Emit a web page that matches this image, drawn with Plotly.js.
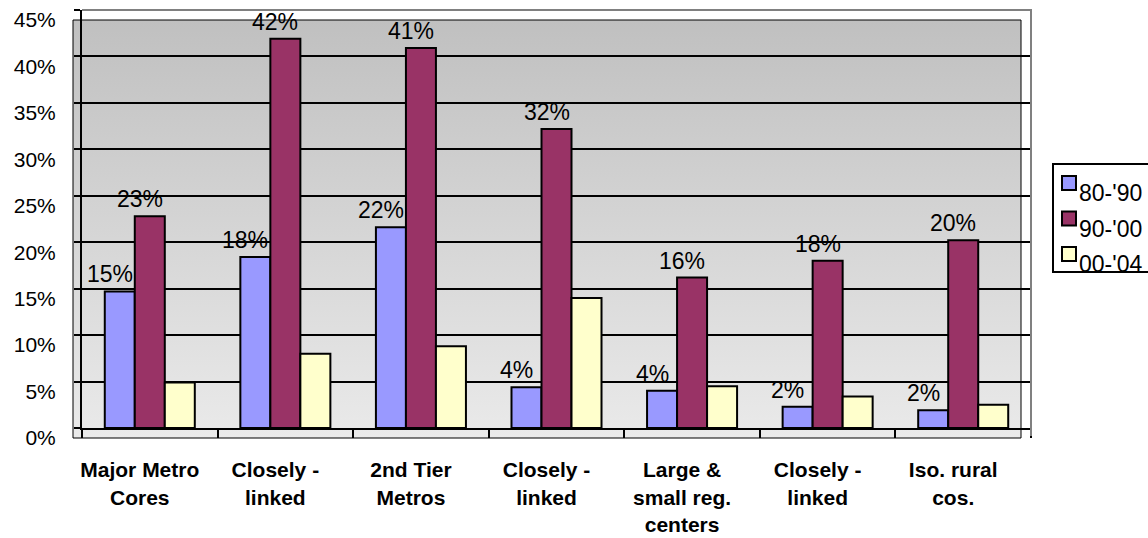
<!DOCTYPE html>
<html>
<head>
<meta charset="utf-8">
<script src="https://cdn.plot.ly/plotly-3.0.1.min.js"></script>
<style>
  html, body { margin: 0; padding: 0; background: #ffffff; }
  #chart { width: 1148px; height: 538px; }
</style>
</head>
<body>
<div id="chart"></div>
<script>
// Population growth by county type, three periods
const categories = [
  "Major Metro<br>Cores",
  "Closely -<br>linked",
  "2nd Tier<br>Metros",
  "Closely -<br>linked",
  "Large &<br>small reg.<br>centers",
  "Closely -<br>linked",
  "Iso. rural<br>cos."
];
const seriesNames = ["80-'90", "90-'00", "00-'04"];
const growth8090 = [14.7, 18.4, 21.6, 4.4, 4.0, 2.3, 1.9];
const growth9000 = [22.8, 41.9, 40.9, 32.2, 16.2, 18.0, 20.2];
const growth0004 = [4.9, 8.0, 8.8, 14.0, 4.5, 3.4, 2.5];
const seriesValues = [growth8090, growth9000, growth0004];
const seriesColors = ["#9999FF", "#993366", "#FFFFCC"];
const seriesLabelled = [true, true, false];
const yTickSuffix = "%";

// ---- layout geometry (pixels) ----
const W = 1148, H = 538;
const PLOT = { left: 82, right: 1031, top: 10, bottom: 428 };
const BARGAP = 0.336;
const FONT = "'Liberation Sans', Arial, sans-serif";

const px2x = px => (px - PLOT.left) / (PLOT.right - PLOT.left);
const px2y = py => (PLOT.bottom - py) / (PLOT.bottom - PLOT.top);

const idx = categories.map((_, i) => i);

const traces = seriesValues.map((vals, s) => ({
  type: "bar",
  name: seriesNames[s],
  x: idx,
  y: vals,
  marker: { color: seriesColors[s], line: { color: "#000000", width: 2 } },
  hoverinfo: "skip",
  showlegend: false
}));

// value labels above the first two series
const barW = (1 - BARGAP) / seriesValues.length;
const annotations = [];
seriesValues.forEach((vals, s) => {
  if (!seriesLabelled[s]) return;
  vals.forEach((v, i) => {
    annotations.push({
      xref: "x", yref: "y",
      x: i + (s - (seriesValues.length - 1) / 2) * barW,
      y: v,
      text: Math.round(v) + "%",
      showarrow: false,
      xanchor: "center", yanchor: "bottom",
      xshift: -10, yshift: 2,
      font: { family: FONT, size: 23, color: "#000000" }
    });
  });
});

// legend box drawn beside the plot
const legendLeft = 1053, legendTop = 164, legendBottom = 272;
const legendRowStep = 35.5, swatchTop = 176, swatchLeft = 1062, swatch = 14;
const shapes = [];

// back wall outline
shapes.push({
  type: "rect", xref: "paper", yref: "paper", layer: "below",
  x0: px2x(73), x1: px2x(1021), y0: px2y(438), y1: px2y(20),
  line: { color: "#000000", width: 1 }, fillcolor: "rgba(0,0,0,0)"
});
// plot frame top and right edges
shapes.push({
  type: "line", xref: "paper", yref: "paper", layer: "above",
  x0: 0, x1: px2x(1032), y0: 1, y1: 1,
  line: { color: "#808080", width: 2 }
});
shapes.push({
  type: "line", xref: "paper", yref: "paper", layer: "above",
  x0: 1, x1: 1, y0: px2y(436), y1: 1,
  line: { color: "#808080", width: 2 }
});
// legend frame
shapes.push({
  type: "rect", xref: "paper", yref: "paper", layer: "above",
  x0: px2x(legendLeft), x1: px2x(W + 10), y0: px2y(legendBottom), y1: px2y(legendTop),
  line: { color: "#000000", width: 2 }, fillcolor: "#ffffff"
});
seriesNames.forEach((name, s) => {
  const top = swatchTop + s * legendRowStep;
  shapes.push({
    type: "rect", xref: "paper", yref: "paper", layer: "above",
    x0: px2x(swatchLeft), x1: px2x(swatchLeft + swatch),
    y0: px2y(top + swatch), y1: px2y(top),
    line: { color: "#000000", width: 2 }, fillcolor: seriesColors[s]
  });
  annotations.push({
    xref: "paper", yref: "paper",
    x: px2x(swatchLeft + swatch + 1), y: px2y(top + swatch + 3),
    text: name, showarrow: false,
    xanchor: "left", yanchor: "middle",
    font: { family: FONT, size: 23, color: "#000000" }
  });
});

// gradient back wall
const wallSvg =
  "<svg xmlns='http://www.w3.org/2000/svg' width='100' height='100' viewBox='0 0 100 100' preserveAspectRatio='none'>" +
  "<defs><linearGradient id='g' x1='0' y1='0' x2='0' y2='1'>" +
  "<stop offset='0' stop-color='#C0C0C0'/><stop offset='1' stop-color='#EAEAEA'/>" +
  "</linearGradient></defs><rect width='100' height='100' fill='url(#g)'/></svg>";

const layout = {
  width: W, height: H,
  margin: { l: PLOT.left, r: W - PLOT.right, t: PLOT.top, b: H - PLOT.bottom, autoexpand: false },
  paper_bgcolor: "#ffffff",
  plot_bgcolor: "rgba(0,0,0,0)",
  showlegend: false,
  barmode: "group",
  bargap: BARGAP,
  bargroupgap: 0,
  font: { family: FONT, color: "#000000" },
  xaxis: {
    range: [-0.5, categories.length - 0.5],
    tickmode: "array", tickvals: idx, ticktext: categories,
    ticks: "", showgrid: false, zeroline: false,
    showline: true, linecolor: "#000000", linewidth: 2,
    tickfont: { family: FONT, size: 21, weight: "bold", color: "#000000" },
    ticklabelshift: -10, ticklabelstandoff: 22,
    minor: { tick0: -0.5, dtick: 1, ticks: "outside", ticklen: 8, tickwidth: 2, tickcolor: "#000000", showgrid: false },
    fixedrange: true
  },
  yaxis: {
    range: [0, 45], tickmode: "linear", tick0: 0, dtick: 5, ticksuffix: yTickSuffix,
    showgrid: true, gridcolor: "#000000", gridwidth: 2,
    zeroline: false, showline: true, linecolor: "#000000", linewidth: 2,
    ticks: "outside", ticklen: 6, tickwidth: 2, tickcolor: "#000000",
    tickfont: { family: FONT, size: 21, color: "#000000" },
    ticklabelshift: 10, ticklabelstandoff: 14,
    fixedrange: true
  },
  images: [{
    source: "data:image/svg+xml;charset=utf-8," + encodeURIComponent(wallSvg),
    xref: "paper", yref: "paper",
    x: px2x(73), y: px2y(20),
    sizex: px2x(1021) - px2x(73), sizey: px2y(20) - px2y(438),
    xanchor: "left", yanchor: "top",
    sizing: "stretch", layer: "below"
  }],
  shapes: shapes,
  annotations: annotations
};

Plotly.newPlot("chart", traces, layout, { staticPlot: true, displayModeBar: false });
</script>
</body>
</html>
